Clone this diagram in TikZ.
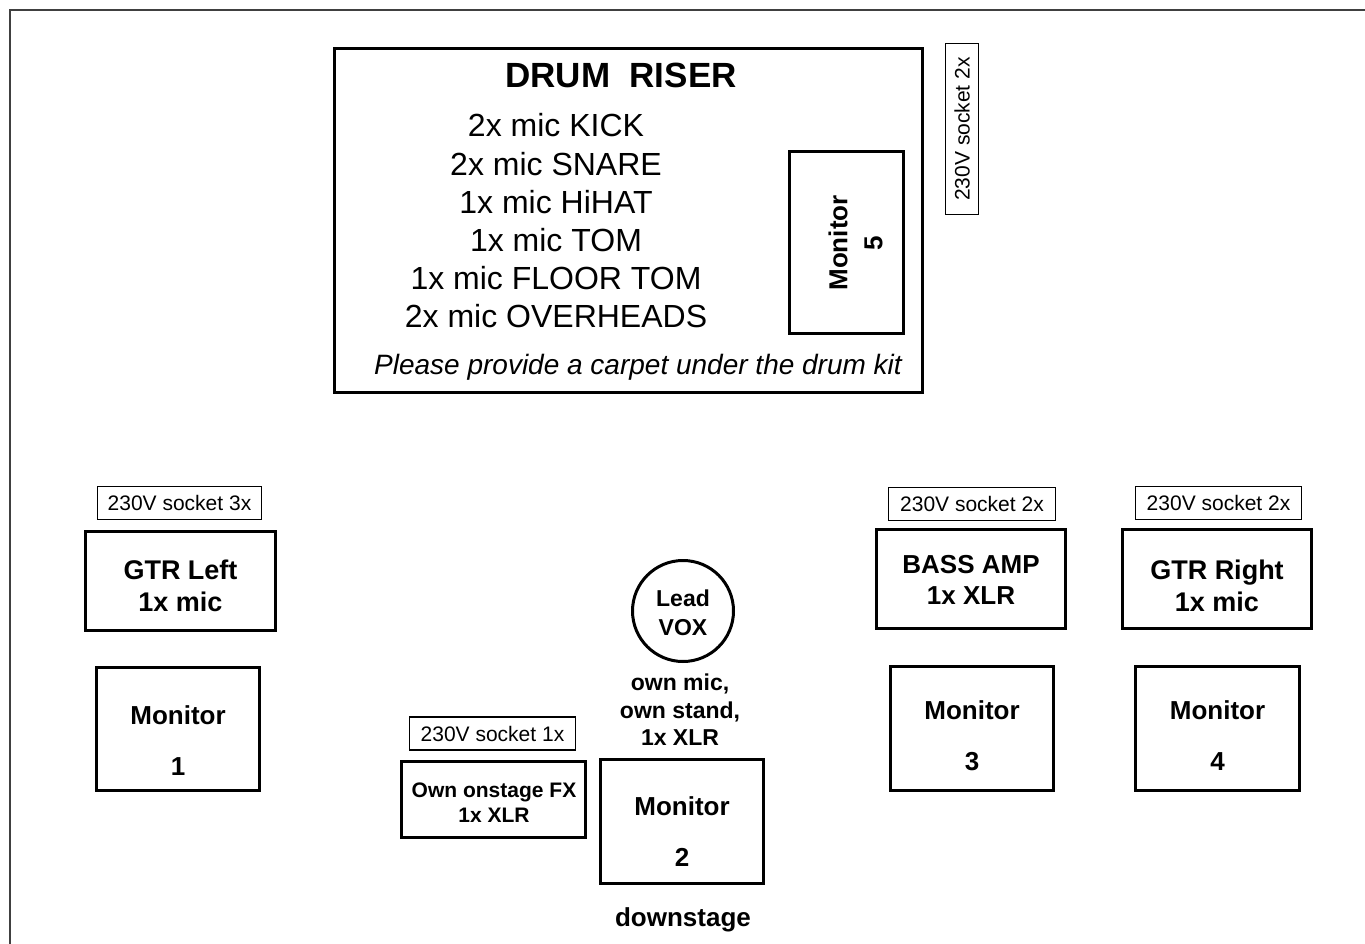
\documentclass[tikz,border=0pt]{standalone}
\usepackage{fontspec}
\setmainfont{Liberation Sans}
\usetikzlibrary{positioning}
\tikzset{box/.style={draw,line width=3pt,inner sep=0pt},
sock/.style={draw,line width=1.6pt,inner sep=0pt,font=\fontsize{21}{24}\selectfont},
bt/.style={font=\fontsize{27}{32}\selectfont\bfseries,align=center},
mont/.style={font=\fontsize{26}{51}\selectfont\bfseries,align=center}}
\begin{document}
\begin{tikzpicture}[x=1pt,y=-1pt]
\useasboundingbox(0,0)rectangle(1365,944);
\draw[line width=1.5pt,black!75](10,944)--(10,10)--(1365,10);
% drum riser
\node[box,minimum width=588,minimum height=344](riser)at(628.5,220.5){};
\node[font=\fontsize{35}{40}\selectfont\bfseries](title)at(621,75){DRUM~~RISER};
\node[font=\fontsize{32}{38.2}\selectfont,align=center](mics)at(556,221){2x mic KICK\\2x mic SNARE\\1x mic HiHAT\\1x mic TOM\\1x mic FLOOR TOM\\2x mic OVERHEADS};
\node[font=\fontsize{28}{32}\selectfont\itshape](carpet)at(638,367){Please provide a carpet under the drum kit};
\node[box,rotate=90,minimum width=182,minimum height=114](m5)at(846.5,242.5){};
\node[mont,rotate=90,font=\fontsize{26}{35}\selectfont\bfseries](m5t)at(855.5,243){Monitor\\5};
\node[sock,rotate=90,minimum width=171,minimum height=33](s5)at(962,129){230V socket 2x};
% sockets
\node[sock,minimum width=164,minimum height=33](sl)at(179.5,503){230V socket 3x};
\node[sock,minimum width=166,minimum height=33](sfx)at(492.5,733.5){230V socket 1x};
\node[sock,minimum width=167,minimum height=33](sb)at(972,504){230V socket 2x};
\node[sock,minimum width=166,minimum height=33](sr)at(1218.5,503){230V socket 2x};
% amps and fx
\node[box,minimum width=190,minimum height=99](gl)at(180.5,581){};\node[bt](glt)at(180.5,586){GTR Left\\1x mic};
\node[box,minimum width=189,minimum height=99](bass)at(971,579){};\node[bt,font=\fontsize{26}{31}\selectfont\bfseries](basst)at(971,580){BASS AMP\\1x XLR};
\node[box,minimum width=189,minimum height=99](gr)at(1217,579){};\node[bt](grt)at(1217,586){GTR Right\\1x mic};
\node[box,minimum width=184,minimum height=76](fx)at(493.5,799.5){};\node[bt,font=\fontsize{21}{25}\selectfont\bfseries](fxt)at(494,803){Own onstage FX\\1x XLR};
% vocals
\node[draw,circle,line width=3pt,minimum size=101,inner sep=0pt](vox)at(683,611){};\node[bt,font=\fontsize{23}{29}\selectfont\bfseries](voxt)at(683,613){Lead\\VOX};
\node[bt,font=\fontsize{23}{27.5}\selectfont\bfseries](own)at(680,710){own mic,\\own stand,\\1x XLR};
% monitors
\node[box,minimum width=163,minimum height=123](m1)at(178,729){};\node[mont](m1t)at(178,740.5){Monitor\\1};
\node[box,minimum width=163,minimum height=124](m2)at(682,821.5){};\node[mont](m2t)at(682,831.5){Monitor\\2};
\node[box,minimum width=163,minimum height=124](m3)at(972,728.5){};\node[mont](m3t)at(972,735.5){Monitor\\3};
\node[box,minimum width=164,minimum height=124](m4)at(1217.5,728.5){};\node[mont](m4t)at(1217.5,735.5){Monitor\\4};
\node[font=\fontsize{26}{30}\selectfont\bfseries](down)at(683,920){downstage};
\end{tikzpicture}
\end{document}
